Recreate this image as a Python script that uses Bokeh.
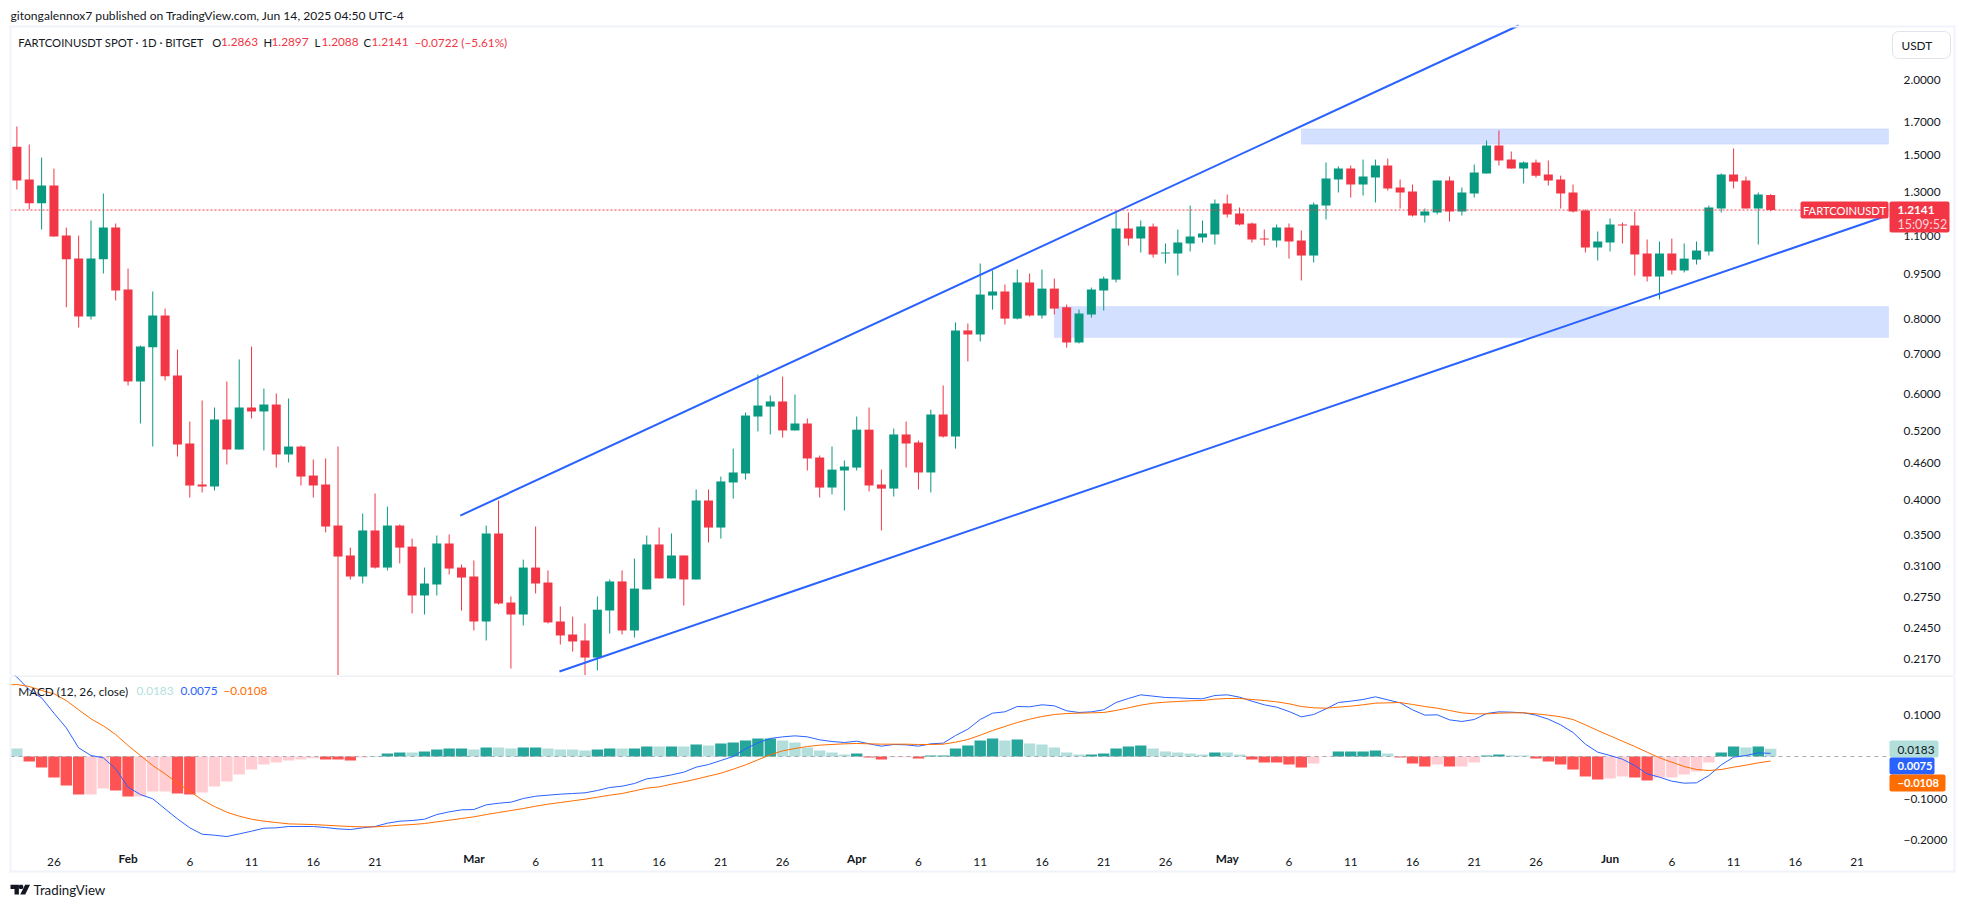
from bokeh.embed import file_html
from bokeh.layouts import column
from bokeh.models import (BoxAnnotation, ColumnDataSource, FixedTicker, Label,
                          PolyAnnotation, PrintfTickFormatter, Range1d)
from bokeh.plotting import figure
from bokeh.resources import INLINE
import pandas as pd

start_date = "2025-01-23"

opens = [1.548,1.3648,1.2463,1.3335,1.101,1.0079,.8071,1.0051,1.1351,.8953,.6293,.7175,.8103,.6438,.4961,.424,.4207,.544,.4849,.5694,
         .561,.5761,.4757,.4904,.4388,.424,.3623,.323,.298,.3555,.3084,.3623,.3342,.2771,.289,.3382,.3084,.298,.2508,.3514,
         .2697,.2576,.3084,.2912,.2508,.2386,.2332,.2184,.2616,.2924,.2423,.2836,.3369,.2958,.323,.2946,.3988,.3595,.4273,.4423,
         .5502,.5716,.5829,.5216,.5357,.4702,.4191,.4474,.4524,.5232,.424,.4174,.5136,.4981,.444,.5545,.5096,.7652,.7535,.8748,
         .8885,.8008,.9197,.8103,.8984,.8364,.7307,.8135,.8919,.9298,1.1311,1.0882,1.1395,1.0277,1.0277,1.0679,1.0924,1.1053,1.2448,1.198,
         1.1529,1.0882,1.0803,1.1351,1.0803,1.0198,1.2352,1.3648,1.423,1.3387,1.3751,1.44,1.3235,1.3035,1.1888,1.2026,1.3596,1.2073,1.2935,1.3965,
         1.5545,1.473,1.423,1.4567,1.391,1.3648,1.2985,1.2119,1.0521,1.072,1.1484,1.1441,1.0277,.9409,1.0277,.963,1.004,1.0357,1.2212,1.391,
         1.3596,1.2212,1.2863]
highs = [1.672,1.5605,1.4843,1.423,1.1351,1.101,1.1663,1.2935,1.1529,.97,.7223,.8885,.8321,.711,.5398,.5851,.5694,.6293,.6847,.7195,
         .6124,.601,.5894,.4923,.4667,.4685,.4904,.3329,.3794,.4096,.3896,.3638,.3446,.3084,.3487,.3501,.312,.3169,.3623,.3988,
         .276,.3179,.3609,.305,.2656,.2556,.2489,.276,.2946,.305,.3192,.3487,.3595,.3514,.323,.416,.416,.4371,.4865,.5588,
         .6463,.5963,.6413,.5987,.5461,.4738,.4904,.4649,.5502,.5694,.4489,.5253,.5398,.5019,.5649,.6196,.789,.786,.9891,.963,
         .9126,.9667,.9519,.9667,.9335,.8452,.8288,.902,.9409,1.2073,1.2026,1.1663,1.1529,1.0679,1.1268,1.2352,1.1663,1.2641,1.2885,1.2258,
         1.1574,1.1268,1.1484,1.1529,1.1225,1.2497,1.4567,1.4355,1.44,1.473,1.473,1.4786,1.3648,1.3387,1.2212,1.3596,1.3803,1.3235,1.4454,1.5848,
         1.6468,1.5194,1.4624,1.473,1.4679,1.385,1.3387,1.2165,1.1182,1.1753,1.1574,1.2073,1.0844,1.0762,1.0882,1.0679,1.0762,1.2352,1.3965,1.5369,
         1.3803,1.2985,1.2897]
lows = [1.3135,1.2165,1.1268,1.0967,.8364,.7738,.7981,.9519,.8584,.6196,.5357,.4904,.6317,.472,.4033,.4112,.4144,.4578,.4849,.5461,
        .4831,.4524,.4613,.4224,.4033,.3528,.195,.2946,.2901,.3072,.305,.3133,.2586,.2576,.2771,.3003,.2616,.2423,.2332,.2676,
        .2094,.247,.2793,.2489,.2296,.2235,.2023,.2079,.2395,.2386,.2358,.2836,.2958,.2958,.2666,.2946,.3395,.3446,.4017,.432,
        .5196,.5136,.5076,.5216,.4474,.4033,.4081,.3838,.4474,.4128,.3555,.4049,.4524,.416,.4112,.5076,.4865,.6795,.7336,.8288,
        .7829,.7981,.8071,.8008,.8135,.7165,.7279,.8039,.8261,.9197,1.0596,1.0317,1.0118,.9891,.9446,1.0357,1.072,1.0638,1.1799,1.1441,
        1.072,1.0596,1.0521,1.0079,.9268,.9929,1.1708,1.2985,1.2737,1.2835,1.2497,1.3085,1.2212,1.1843,1.1574,1.1934,1.1618,1.1888,1.2737,1.3965,
        1.44,1.423,1.3439,1.3751,1.3335,1.2212,1.2026,1.0317,1.0006,1.0357,1.0679,.9446,.9232,.8617,.9483,.9556,.9851,1.0198,1.2026,1.3185,
        1.2212,1.0638,1.2088]
closes = [1.3596,1.2463,1.3335,1.0967,1.0051,.8071,1.0079,1.1351,.8919,.6293,.7195,.8103,.6421,.4942,.4224,.4207,.544,.4849,.5694,.561,
          .5761,.4757,.4904,.4371,.4224,.3609,.3217,.298,.3555,.3084,.3623,.3329,.2771,.2901,.3382,.3072,.2968,.2508,.3514,.2687,
          .2576,.3084,.2901,.2499,.2377,.2323,.2184,.2624,.2924,.2423,.2845,.3369,.2958,.323,.2946,.3988,.3595,.429,.444,.5523,
          .5739,.5829,.5216,.5357,.4685,.4191,.4489,.4542,.5232,.4224,.4174,.5136,.4961,.444,.5545,.5096,.7652,.7535,.8782,.8885,
          .8008,.9197,.8103,.8984,.8321,.7307,.8166,.8953,.9335,1.1311,1.0882,1.1395,1.0238,1.0317,1.072,1.0967,1.1096,1.2448,1.1934,1.1484,
          1.0844,1.0844,1.1351,1.0762,1.0198,1.24,1.37,1.423,1.3387,1.3803,1.44,1.3185,1.2985,1.1888,1.2073,1.3596,1.2073,1.2985,1.4019,1.5545,
          1.4679,1.423,1.4567,1.385,1.3596,1.2935,1.2073,1.0521,1.0762,1.1484,1.1441,1.0238,.9409,1.0277,.963,1.0079,1.0397,1.2258,1.391,1.3544,
          1.2212,1.2885,1.2141]

macd_hist = [.0190,-.0119,-.0262,-.0500,-.0690,-.0905,-.0905,-.0762,-.0810,-.0952,-.0952,-.0833,-.0833,-.0881,-.0905,-.0857,-.0714,-.0595,-.0429,-.0310,
             -.0190,-.0143,-.0095,-.0071,-.0040,-.0071,-.0071,-.0095,-.0024,.0008,.0071,.0095,.0095,.0119,.0167,.0190,.0190,.0167,.0214,.0214,
             .0190,.0214,.0214,.0190,.0167,.0167,.0143,.0167,.0190,.0190,.0190,.0238,.0238,.0238,.0238,.0286,.0262,.0310,.0333,.0381,
             .0429,.0429,.0381,.0333,.0214,.0143,.0095,.0048,.0071,-.0024,-.0071,-.0016,-.0016,-.0048,.0024,.0024,.0190,.0262,.0381,.0429,
             .0381,.0405,.0310,.0286,.0214,.0095,.0048,.0048,.0071,.0190,.0238,.0262,.0190,.0119,.0095,.0071,.0048,.0095,.0095,.0048,
             -.0071,-.0143,-.0143,-.0190,-.0262,-.0167,-.0010,.0119,.0119,.0119,.0143,.0071,-.0024,-.0167,-.0238,-.0190,-.0238,-.0238,-.0143,.0024,
             .0048,.0024,.0024,-.0048,-.0119,-.0190,-.0310,-.0476,-.0548,-.0524,-.0476,-.0500,-.0571,-.0500,-.0500,-.0429,-.0357,-.0143,.0095,.0238,
             .0214,.0238,.0183]
# G rising above zero, g falling above zero, R falling below zero, r rising below zero
macd_hist_state = ("g" "RRRRR" "rr" "RR" "rrr" "RR" "rrrrrrrrrr" "RRR" "r" "GGG" "g" "GGGG" "g" "G" "gg" "GG" "gggg" "GG" "g" "GG"
                   "g" "G" "g" "G" "g" "GGGGG" "gggggg" "G" "RR" "rr" "R" "GGGGGG" "g" "G" "ggggg" "GGGGG" "ggggg" "G" "gg"
                   "RRRRR" "rr" "GGGG" "g" "RRR" "r" "R" "rr" "GG" "gg" "RRRRRR" "rr" "RR" "rrrrr" "GG" "g" "G" "g")
# the two lines begin one session before the first visible candle
macd_line = [.2168,.1890,.1588,.1397,.1032,.0683,.0206,.0024,-.0032,-.0294,-.0730,-.0905,-.1008,-.1247,-.1485,-.1699,-.1850,-.1874,-.1906,-.1842,-.1779,
             -.1707,-.1699,-.1667,-.1667,-.1667,-.1691,-.1723,-.1739,-.1699,-.1667,-.1588,-.1540,-.1524,-.1493,-.1382,-.1318,-.1270,-.1262,-.1151,-.1112,
             -.1088,-.1000,-.0945,-.0921,-.0897,-.0881,-.0865,-.0810,-.0738,-.0707,-.0643,-.0532,-.0492,-.0437,-.0373,-.0254,-.0191,-.0095,0,.0183,
             .0326,.0429,.0468,.0492,.0468,.0397,.0357,.0333,.0365,.0302,.0246,.0286,.0278,.0246,.0302,.0318,.0500,.0651,.0881,.1032,
             .1064,.1191,.1183,.1231,.1207,.1088,.1048,.1064,.1112,.1286,.1382,.1469,.1437,.1405,.1397,.1382,.1374,.1453,.1469,.1413,
             .1318,.1231,.1175,.1072,.0945,.1000,.1135,.1286,.1318,.1358,.1421,.1350,.1278,.1112,.0985,.0993,.0873,.0834,.0881,.1024,
             .1064,.1056,.1040,.0985,.0889,.0754,.0572,.0294,.0103,.0024,-.0064,-.0214,-.0413,-.0492,-.0588,-.0635,-.0627,-.0453,-.0199,-.0016,
             .0024,.0087,.0075]
macd_signal = [.1699,.1715,.1667,.1572,.1493,.1334,.1112,.0897,.0730,.0524,.0262,.0024,-.0214,-.0413,-.0635,-.0826,-.1032,-.1191,-.1326,-.1421,-.1493,
               -.1540,-.1572,-.1604,-.1612,-.1620,-.1636,-.1652,-.1667,-.1675,-.1675,-.1659,-.1636,-.1620,-.1596,-.1556,-.1517,-.1477,-.1437,-.1382,-.1334,
               -.1286,-.1239,-.1183,-.1135,-.1096,-.1056,-.1016,-.0969,-.0921,-.0881,-.0818,-.0754,-.0723,-.0659,-.0603,-.0540,-.0468,-.0397,-.0302,-.0199,
               -.0079,.0040,.0135,.0190,.0238,.0270,.0286,.0302,.0310,.0302,.0294,.0294,.0294,.0286,.0286,.0294,.0341,.0405,.0508,.0619,
               .0715,.0810,.0889,.0953,.1000,.1024,.1032,.1040,.1048,.1096,.1159,.1223,.1270,.1294,.1310,.1326,.1334,.1366,.1382,.1382,
               .1358,.1334,.1302,.1255,.1191,.1159,.1151,.1175,.1199,.1231,.1270,.1278,.1286,.1239,.1191,.1151,.1096,.1040,.1016,.1016,
               .1032,.1040,.1040,.1016,.0985,.0945,.0881,.0754,.0619,.0492,.0365,.0238,.0103,-.0032,-.0135,-.0238,-.0310,-.0333,-.0310,-.0254,
               -.0206,-.0151,-.0108]

price_ticks = [2.0,1.7,1.5,1.3,1.1,.95,.8,.7,.6,.52,.46,.4,.35,.31,.275,.245,.217]
macd_ticks = [.1,-.1,-.2]
macd_tick_labels = ["0.1000","\u22120.1000","\u22120.2000"]
day_tick_dates = ["2025-01-26","2025-02-06","2025-02-11","2025-02-16","2025-02-21","2025-03-06","2025-03-11","2025-03-16","2025-03-21","2025-03-26",
                  "2025-04-06","2025-04-11","2025-04-16","2025-04-21","2025-04-26","2025-05-06","2025-05-11","2025-05-16","2025-05-21","2025-05-26",
                  "2025-06-06","2025-06-11","2025-06-16","2025-06-21"]
day_tick_labels = ["26","6","11","16","21","6","11","16","21","26","6","11","16","21","26","6","11","16","21","26","6","11","16","21"]
month_tick_dates = ["2025-02-01","2025-03-01","2025-04-01","2025-05-01","2025-06-01"]
month_tick_labels = ["Feb","Mar","Apr","May","Jun"]

upper_channel_days, upper_channel_prices = [35.9,121.6],[.3764,2.4626]
lower_channel_days, lower_channel_prices = [43.93,151.05],[.2071,1.181]
upper_zone = dict(left=104,right=151.55,bottom=1.5626,top=1.6575)
lower_zone = dict(left=84,right=151.55,bottom=.7447,top=.8387)
last_price = 1.2141

FONT = "Lato"
FS = "11.8px"
LEGEND_FS = "11.3px"
BOLD_FS = "11.2px"
INK = "#131722"
RED = "#f23645"
GREEN = "#089981"
BLUE = "#2962ff"
ORANGE = "#ff6d00"
BORDER = "#f0f3fa"
hist_colors = {"G":"#26a69a","g":"#b2dfdb","R":"#ff5252","r":"#ffcdd2"}

def day_of(d):
    return (pd.Timestamp(d)-pd.Timestamp(start_date)).days

WIDTH = 1956
X_RANGE = (-1.328,157.05)
PANE_DAYS = [-.518,151.55]
TOP_ORIGIN = (0,0)
MACD_ORIGIN = (0,675)

def tag(fig,origin,x,y,text,color=INK,size=FS,align="left",style="normal"):
    fig.add_layout(Label(x=x-origin[0],y=y-origin[1],x_units="canvas",y_units="canvas",text=text,text_color=color,
                         text_font=FONT,text_font_size=size,text_font_style=style,text_align=align,
                         text_baseline="middle",level="overlay"))

def rect(fig,origin,x0,y0,x1,y1,color,radius=0,line=None):
    fig.add_layout(BoxAnnotation(left=x0-origin[0],right=x1-origin[0],top=y0-origin[1],bottom=y1-origin[1],
                                 left_units="canvas",right_units="canvas",top_units="canvas",bottom_units="canvas",
                                 fill_color=color,fill_alpha=1,line_color=line,line_alpha=1 if line else 0,
                                 border_radius=radius,level="annotation"))

def style_axis(ax):
    ax.axis_line_color = None
    ax.major_tick_line_color = None
    ax.minor_tick_line_color = None
    ax.major_label_text_font = FONT
    ax.major_label_text_font_size = FS
    ax.major_label_text_color = INK

# ---------- price pane ----------
p = figure(width=WIDTH,height=675,y_axis_type="log",y_axis_location="right",x_axis_location=None,
           x_range=Range1d(*X_RANGE),y_range=Range1d(.2039,2.7105),output_backend="svg",toolbar_location=None,
           min_border_left=0,min_border_right=0,min_border_top=0,min_border_bottom=0,
           outline_line_color=None,background_fill_color="white",border_fill_color="white")
p.grid.visible = False
p.yaxis.fixed_location = PANE_DAYS[1]
p.yaxis.ticker = FixedTicker(ticks=price_ticks)
p.yaxis.formatter = PrintfTickFormatter(format="%.4f")
style_axis(p.yaxis)
p.yaxis.major_label_standoff = 9

for z in (upper_zone,lower_zone):
    p.quad(line_color=BLUE,line_alpha=.08,fill_color=BLUE,fill_alpha=.2,**z)

days = list(range(len(opens)))
colors = [GREEN if c>=o else RED for o,c in zip(opens,closes)]
candles = ColumnDataSource(dict(day=days,high=highs,low=lows,
                                body_top=[max(o,c) for o,c in zip(opens,closes)],
                                body_bottom=[min(o,c) for o,c in zip(opens,closes)],color=colors))
p.segment("day","high","day","low",source=candles,line_color="color",line_width=1)
p.vbar(x="day",width=.73,top="body_top",bottom="body_bottom",source=candles,fill_color="color",line_color=None)
p.line(upper_channel_days,upper_channel_prices,line_color=BLUE,line_width=2)
p.line(lower_channel_days,lower_channel_prices,line_color=BLUE,line_width=2)
p.line(PANE_DAYS,[last_price,last_price],line_color=RED,line_width=1,line_dash=[2,2])

# frame of the published picture
rect(p,TOP_ORIGIN,9,25,1955,27,BORDER)
rect(p,TOP_ORIGIN,9,25,11,675,BORDER)
rect(p,TOP_ORIGIN,1953,25,1955,675,BORDER)

tag(p,TOP_ORIGIN,10,15,"gitongalennox7 published on TradingView.com, Jun 14, 2025 04:50 UTC-4",size="12.1px")
tag(p,TOP_ORIGIN,17.7,41.7,"FARTCOINUSDT SPOT \u00b7 1D \u00b7 BITGET",size=LEGEND_FS)
for x_letter,letter,x_value,value in [(211.7,"O",220.5,"1.2863"),(263,"H",271,"1.2897"),(314,"L",321,"1.2088"),(363,"C",371,"1.2141")]:
    tag(p,TOP_ORIGIN,x_letter,41.7,letter,size=LEGEND_FS)
    tag(p,TOP_ORIGIN,x_value,41.7,value,color=RED)
tag(p,TOP_ORIGIN,414,41.7,"\u22120.0722 (\u22125.61%)",color=RED)

rect(p,TOP_ORIGIN,1892,31,1950,58,"white",radius=6,line="#e0e3eb")
tag(p,TOP_ORIGIN,1901,44.5,"USDT")

rect(p,TOP_ORIGIN,1800,201,1888,218,RED,radius=2)
tag(p,TOP_ORIGIN,1844,209.5,"FARTCOINUSDT",color="white",align="center",size="11.2px")
rect(p,TOP_ORIGIN,1889,201,1949,232,RED,radius=2)
tag(p,TOP_ORIGIN,1897,209.5,"1.2141",color="white",style="bold")
tag(p,TOP_ORIGIN,1897,224,"15:09:52",color="#fcd5d8",size="12.5px")

# ---------- MACD pane ----------
m = figure(width=WIDTH,height=224,y_axis_location="right",x_range=Range1d(*X_RANGE),y_range=Range1d(-.3405,.1929),
           output_backend="svg",toolbar_location=None,min_border_left=0,min_border_right=0,min_border_top=0,min_border_bottom=0,
           outline_line_color=None,background_fill_color="white",border_fill_color="white")
m.grid.visible = False
m.yaxis.fixed_location = PANE_DAYS[1]
m.yaxis.ticker = FixedTicker(ticks=macd_ticks)
m.yaxis.major_label_overrides = dict(zip(macd_ticks,macd_tick_labels))
style_axis(m.yaxis)
m.yaxis.major_label_standoff = 9
m.xaxis.fixed_location = -.2119
m.xaxis.ticker = FixedTicker(ticks=[day_of(d) for d in day_tick_dates])
m.xaxis.major_label_overrides = dict(zip([day_of(d) for d in day_tick_dates],day_tick_labels))
style_axis(m.xaxis)
m.xaxis.major_label_standoff = 7

hist = ColumnDataSource(dict(day=days,value=macd_hist,color=[hist_colors[s] for s in macd_hist_state]))
m.vbar(x="day",width=.92,top="value",bottom=0,source=hist,fill_color="color",line_color=None)
m.line(PANE_DAYS,[0,0],line_color="#9598a1",line_width=1,line_dash=[4,4],line_alpha=.8)
line_days = list(range(-1,len(opens)))
m.line(line_days,macd_line,line_color=BLUE,line_width=1)
m.line(line_days,macd_signal,line_color=ORANGE,line_width=1)

for d,label in zip(month_tick_dates,month_tick_labels):
    m.add_layout(Label(x=day_of(d),y=858-MACD_ORIGIN[1],x_units="data",y_units="canvas",text=label,text_align="center",
                       text_baseline="middle",text_font=FONT,text_font_size=FS,text_font_style="bold",text_color=INK))

rect(m,MACD_ORIGIN,0,675,9,899,"white")
rect(m,MACD_ORIGIN,9,675,11,872,BORDER)
rect(m,MACD_ORIGIN,1953,675,1955,872,BORDER)
rect(m,MACD_ORIGIN,9,870,1955,872,BORDER)
rect(m,MACD_ORIGIN,11,675,1953,676,"#e0e3eb")

tag(m,MACD_ORIGIN,17.7,690.7,"MACD (12, 26, close)")
tag(m,MACD_ORIGIN,136,690.7,"0.0183",color="#b2dfdb")
tag(m,MACD_ORIGIN,180,690.7,"0.0075",color=BLUE)
tag(m,MACD_ORIGIN,223,690.7,"\u22120.0108",color=ORANGE)

rect(m,MACD_ORIGIN,1889,740,1938,757,"#b2dfdb",radius=2)
tag(m,MACD_ORIGIN,1897,749,"0.0183")
rect(m,MACD_ORIGIN,1889,757,1934,774,BLUE,radius=2)
tag(m,MACD_ORIGIN,1897,765.5,"0.0075",color="white",style="bold",size=BOLD_FS)
rect(m,MACD_ORIGIN,1889,774,1945,791,ORANGE,radius=2)
tag(m,MACD_ORIGIN,1897,782.5,"\u22120.0108",color="white",style="bold",size=BOLD_FS)

# TradingView mark
for xs,ys in [([10,18.4,18.4,14,14,10],[884.3,884.3,894,894,888.4,888.4]),
              ([24.6,29.5,24.7,19.8],[884.3,884.3,894,894]),
              ([19,22,23,22,19,18],[884.3,884.3,886.4,888.5,888.5,886.4])]:
    m.add_layout(PolyAnnotation(xs=[x-MACD_ORIGIN[0] for x in xs],ys=[y-MACD_ORIGIN[1] for y in ys],
                                xs_units="canvas",ys_units="canvas",fill_color=INK,fill_alpha=1,line_color=None))
tag(m,MACD_ORIGIN,33,889,"TradingView",size="13.3px")

page = column(p,m,spacing=0)
open("out.html","w").write(file_html(page,INLINE))
